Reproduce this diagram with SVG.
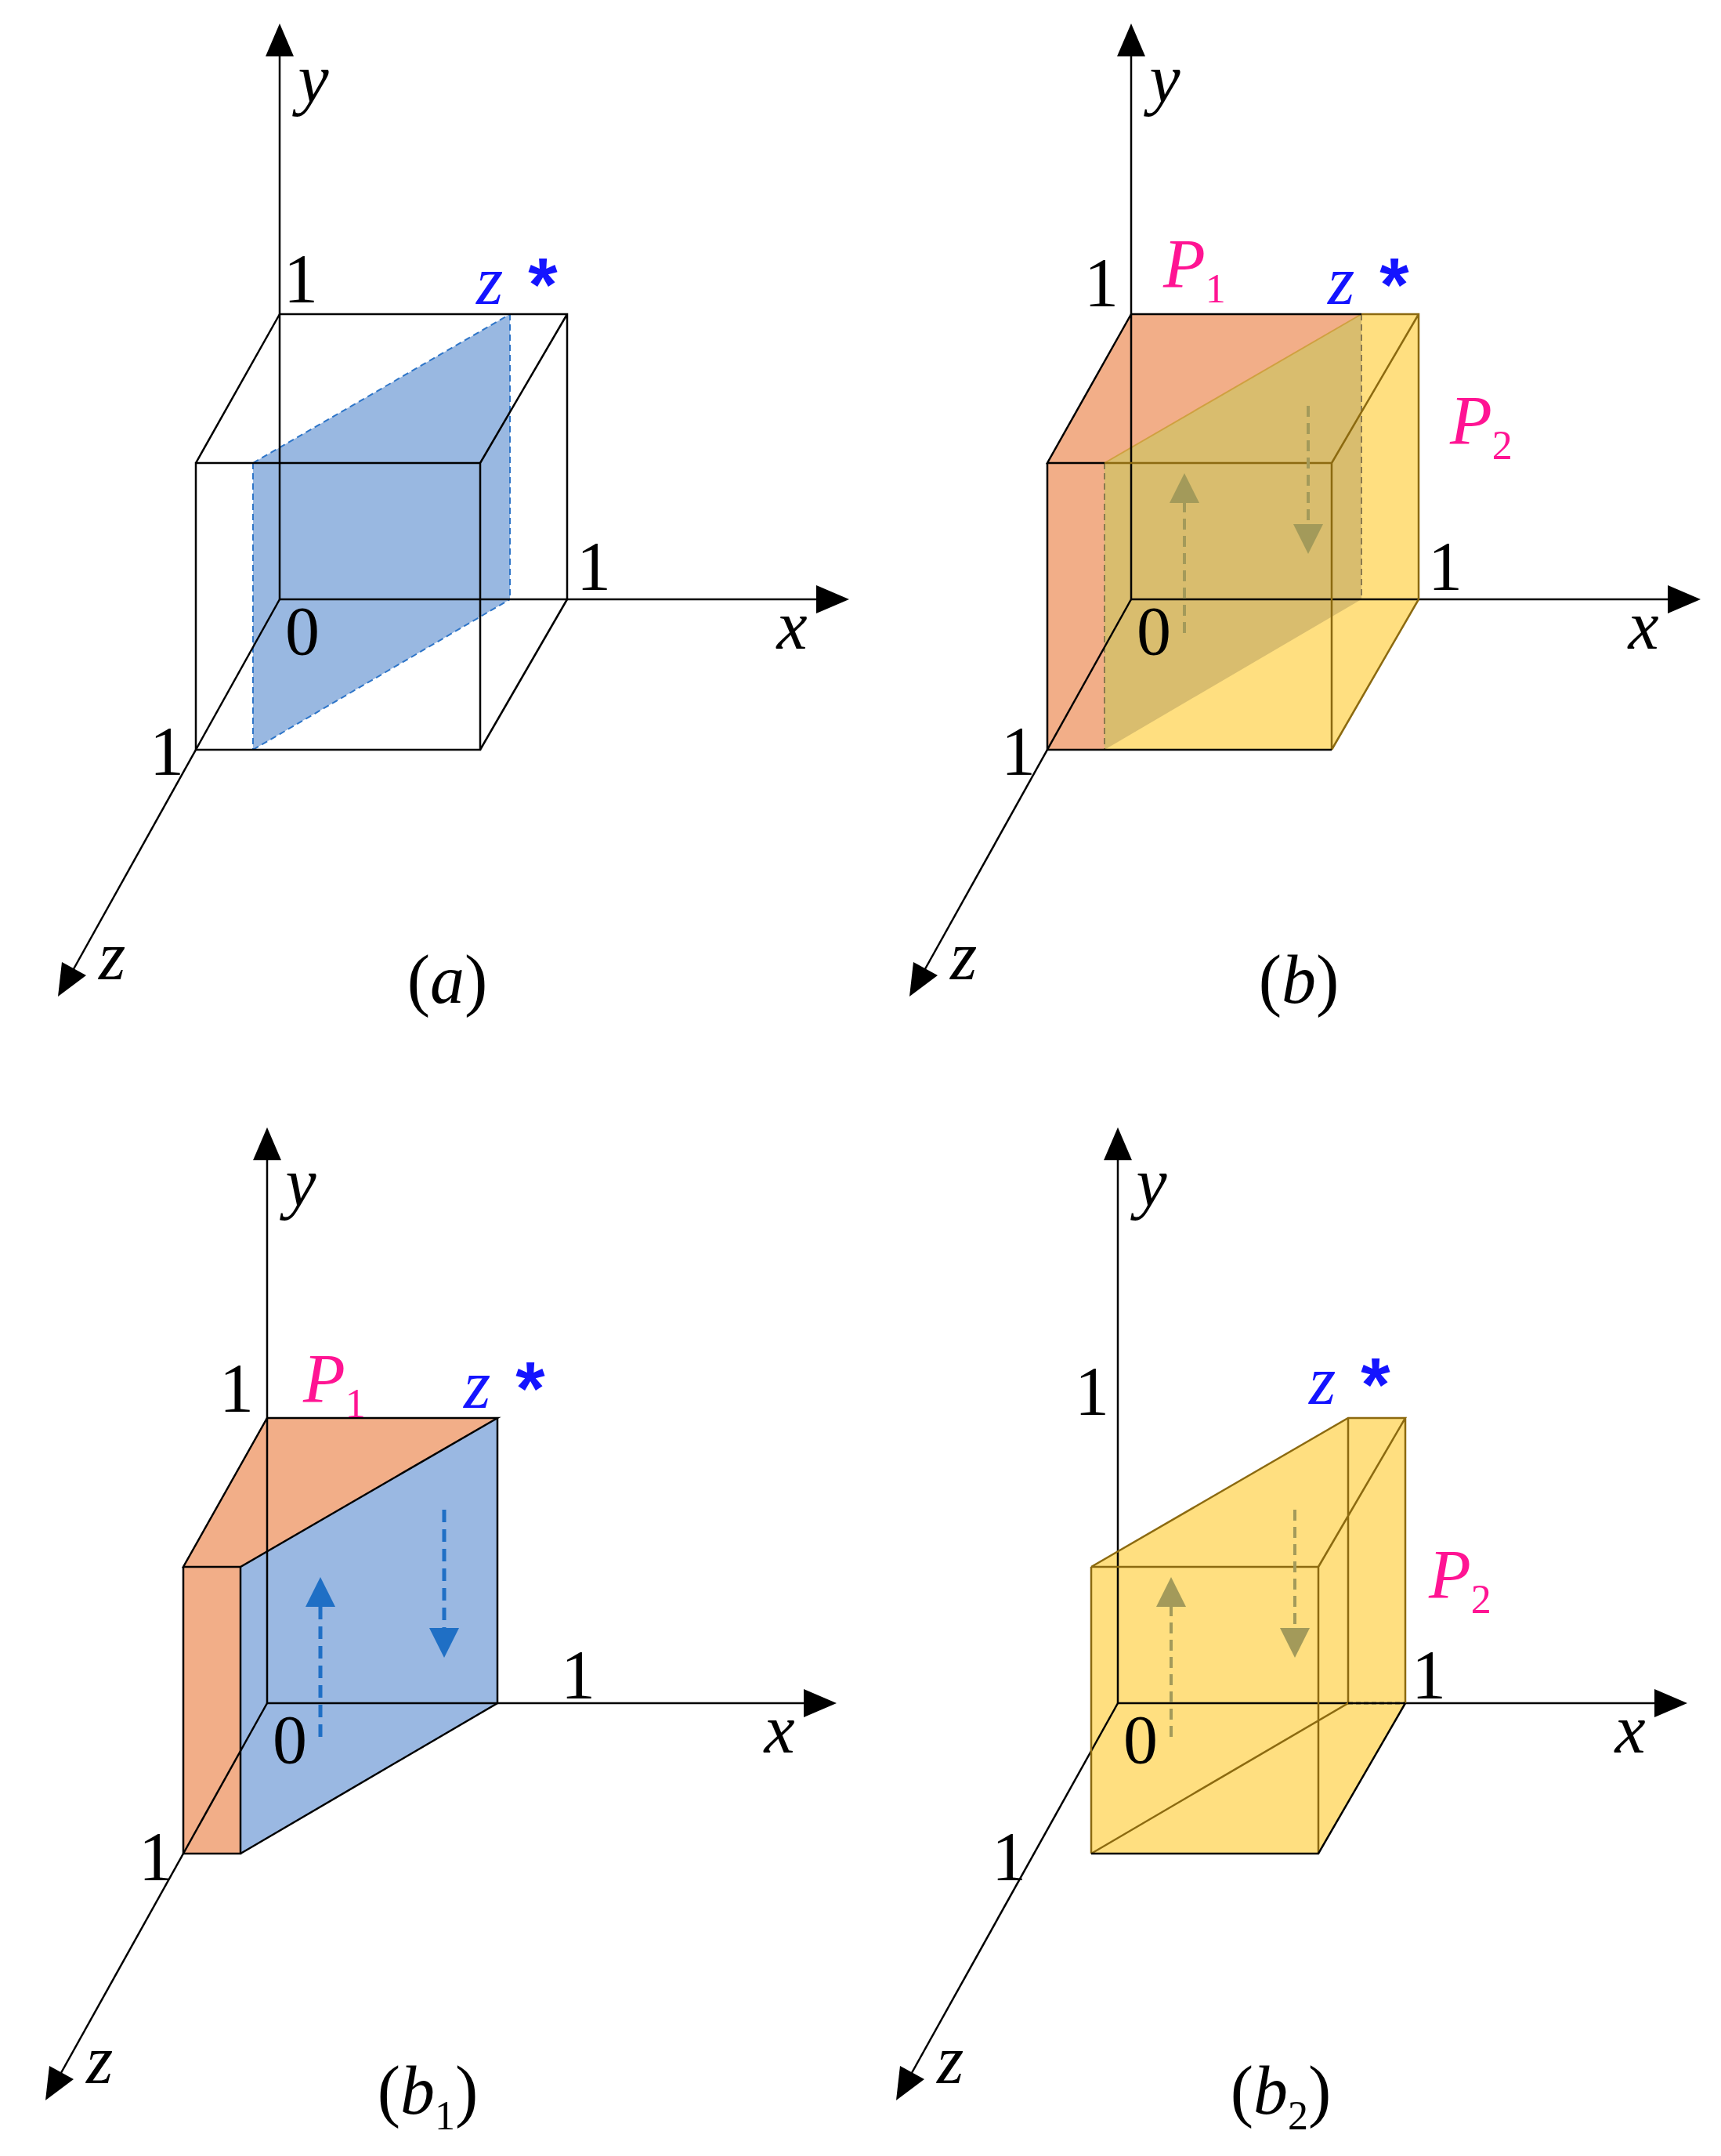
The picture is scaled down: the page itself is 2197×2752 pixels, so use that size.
<svg xmlns="http://www.w3.org/2000/svg" width="2197" height="2752" viewBox="0 0 2197 2752">
<style>
.ax{stroke:#000;stroke-width:2.5;fill:none}
.ah{fill:#000}
.t{font-family:"Liberation Serif",serif;font-size:88px;fill:#000}
.i{font-style:italic}
.zs{fill:#1414ff}
.st{fill:#1414ff;font-family:"Liberation Sans",sans-serif;font-size:96px;font-weight:bold}
.p{fill:#ff1493;font-style:italic}
.e{stroke:#000;stroke-width:2.5;fill:none}
.br{stroke:#8c6a10;stroke-width:2.5;fill:none}
</style>
<defs>
<g id="axes">
<line class="ax" x1="357" y1="765" x2="357" y2="66"/>
<polygon class="ah" points="357,30 339,72 375,72"/>
<line class="ax" x1="357" y1="765" x2="1044" y2="765"/>
<polygon class="ah" points="1084,765 1042,747 1042,783"/>
<line class="ax" x1="357" y1="765" x2="90" y2="1244"/>
<polygon class="ah" points="74,1272 79,1228 110,1245"/>
<text class="t i" x="400" y="130" text-anchor="middle">y</text>
<text class="t i" x="1011" y="828" text-anchor="middle">x</text>
<text class="t i" x="143" y="1250" text-anchor="middle">z</text>
</g>
</defs>

<g id="panel-a">
<polygon points="323,591 651,401 651,765 323,957" fill="#8eb0de" fill-opacity="0.9"/>
<path d="M323,591 V957 M651,401 V765 M323,591 L651,401 M323,957 L651,765" stroke="#2e75c8" stroke-width="2" stroke-dasharray="8,5" fill="none"/>
<use href="#axes"/>
<path class="e" d="M357,401 H724 V765 M250,591 H613 V957 H250 Z M357,401 L250,591 M724,401 L613,591 M724,765 L613,957"/>
<text class="t" x="384" y="385" text-anchor="middle">1</text>
<text class="t" x="758" y="752" text-anchor="middle">1</text>
<text class="t" x="213" y="988" text-anchor="middle">1</text>
<text class="t" x="386" y="835" text-anchor="middle" fill="#13305a">0</text>
<text class="t i zs" x="625" y="388" text-anchor="middle">z</text>
<text class="st" x="693" y="396" text-anchor="middle">*</text>
<text class="t" x="571" y="1280" text-anchor="middle">(<tspan class="i">a</tspan>)</text>
</g>

<g id="panel-b" transform="translate(1087,0)">
<polygon points="357,401 724,401 724,765 613,957 250,957 250,591" fill="#ffdf80"/>
<polygon points="357,401 651,401 323,591 250,591" fill="#f2ae88"/>
<rect x="250" y="591" width="73" height="366" fill="#f2ae88"/>
<polygon points="323,591 651,401 651,765 323,957" fill="#b39b5b" fill-opacity="0.5"/>
<path d="M323,591 V957 M651,401 V765" stroke="#8a7a50" stroke-width="2" stroke-dasharray="8,5" fill="none"/>
<line x1="323" y1="591" x2="651" y2="401" stroke="#d0a040" stroke-width="2"/>
<use href="#axes"/>
<path class="br" d="M651,401 H724 V765 M323,591 H613 V957 M724,401 L613,591 M724,765 L613,957"/>
<path class="e" d="M357,401 H651 M357,401 L250,591 H323 M250,591 V957 H613"/>
<g stroke="#a39a5a" stroke-width="4" stroke-dasharray="14,8">
<line x1="425" y1="808" x2="425" y2="640"/>
<line x1="583" y1="518" x2="583" y2="672"/>
</g>
<polygon points="425,604 406,642 444,642" fill="#a39a5a"/>
<polygon points="583,707 564,669 602,669" fill="#a39a5a"/>
<text class="t" x="319" y="390" text-anchor="middle">1</text>
<text class="t" x="758" y="752" text-anchor="middle">1</text>
<text class="t" x="213" y="988" text-anchor="middle">1</text>
<text class="t" x="386" y="835" text-anchor="middle" fill="#7a6420">0</text>
<text class="t p" x="398" y="366">P<tspan font-size="52" font-style="normal" dy="20">1</tspan></text>
<text class="t p" x="764" y="566">P<tspan font-size="52" font-style="normal" dy="20">2</tspan></text>
<text class="t i zs" x="625" y="388" text-anchor="middle">z</text>
<text class="st" x="693" y="396" text-anchor="middle">*</text>
<text class="t" x="571" y="1280" text-anchor="middle">(<tspan class="i">b</tspan>)</text>
</g>

<g id="panel-b1" transform="translate(-16,1409)">
<polygon points="357,401 651,401 323,591 250,591" fill="#f2ae88"/>
<rect x="250" y="591" width="73" height="366" fill="#f2ae88"/>
<polygon points="323,591 651,401 651,765 323,957" fill="#9ab8e2"/>
<use href="#axes"/>
<path class="e" d="M357,401 H651 L323,591 H250 Z M250,591 V957 H323 V591 M651,401 V765 L323,957"/>
<g stroke="#1f6fc5" stroke-width="5" stroke-dasharray="16,9">
<line x1="425" y1="808" x2="425" y2="640"/>
<line x1="583" y1="518" x2="583" y2="672"/>
</g>
<polygon points="425,604 406,642 444,642" fill="#1f6fc5"/>
<polygon points="583,707 564,669 602,669" fill="#1f6fc5"/>
<text class="t" x="318" y="392" text-anchor="middle">1</text>
<text class="t" x="754" y="758" text-anchor="middle">1</text>
<text class="t" x="215" y="990" text-anchor="middle">1</text>
<text class="t" x="386" y="841" text-anchor="middle" fill="#13305a">0</text>
<text class="t p" x="403" y="380">P<tspan font-size="52" font-style="normal" dy="20">1</tspan></text>
<text class="t i zs" x="625" y="388" text-anchor="middle">z</text>
<text class="st" x="693" y="396" text-anchor="middle">*</text>
<text class="t" x="562" y="1289" text-anchor="middle">(<tspan class="i">b</tspan><tspan font-size="52" dy="20">1</tspan><tspan dy="-20">)</tspan></text>
</g>

<g id="panel-b2" transform="translate(1070,1409)">
<polygon points="323,591 651,401 724,401 724,765 613,957 323,957" fill="#ffdf80"/>
<use href="#axes"/>
<path class="br" d="M323,591 L651,401 H724 L613,591 M651,401 V765 L323,957 M724,401 V765 M323,591 H613 V957 M323,591 V957"/>
<path class="e" d="M323,957 H613 L724,765"/>
<line x1="651" y1="765" x2="724" y2="765" stroke="#000" stroke-width="2.5" stroke-dasharray="6,4"/>
<g stroke="#a39a5a" stroke-width="4" stroke-dasharray="14,8">
<line x1="425" y1="808" x2="425" y2="640"/>
<line x1="583" y1="518" x2="583" y2="672"/>
</g>
<polygon points="425,604 406,642 444,642" fill="#a39a5a"/>
<polygon points="583,707 564,669 602,669" fill="#a39a5a"/>
<text class="t" x="324" y="396" text-anchor="middle">1</text>
<text class="t" x="754" y="758" text-anchor="middle">1</text>
<text class="t" x="218" y="990" text-anchor="middle">1</text>
<text class="t" x="386" y="841" text-anchor="middle" fill="#7a6420">0</text>
<text class="t p" x="754" y="630">P<tspan font-size="52" font-style="normal" dy="20">2</tspan></text>
<text class="t i zs" x="618" y="383" text-anchor="middle">z</text>
<text class="st" x="686" y="391" text-anchor="middle">*</text>
<text class="t" x="565" y="1289" text-anchor="middle">(<tspan class="i">b</tspan><tspan font-size="52" dy="20">2</tspan><tspan dy="-20">)</tspan></text>
</g>
</svg>
